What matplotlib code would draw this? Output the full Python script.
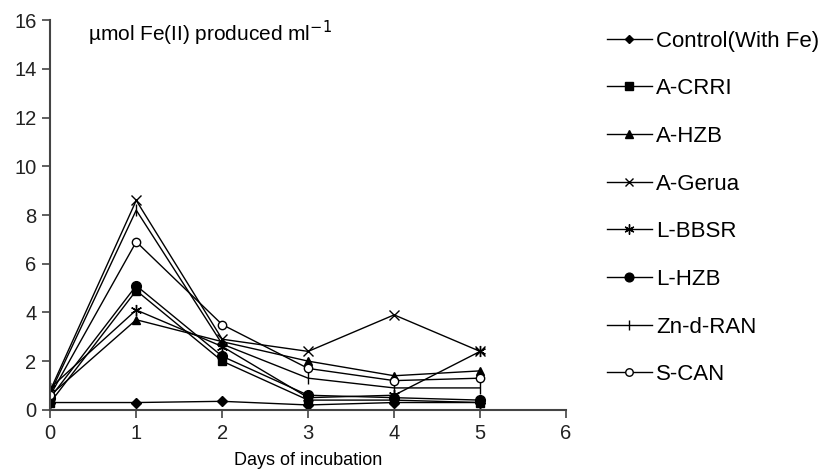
import matplotlib
matplotlib.use("Agg")
import matplotlib.pyplot as plt

plt.rcParams['font.family'] = ['Liberation Sans', 'DejaVu Sans']

# ===== Data =====
days = [0, 1, 2, 3, 4, 5]
control = [0.3, 0.3, 0.35, 0.2, 0.3, 0.3]
a_crri = [0.3, 4.9, 2.0, 0.4, 0.4, 0.3]
a_hzb = [0.6, 3.7, 2.8, 2.0, 1.4, 1.6]
a_gerua = [0.8, 8.6, 2.9, 2.4, 3.9, 2.4]
l_bbsr = [0.9, 4.1, 2.6, 0.5, 0.6, 2.4]
l_hzb = [0.5, 5.1, 2.2, 0.6, 0.5, 0.4]
zn_d_ran = [0.7, 8.2, 2.7, 1.3, 0.9, 0.9]
s_can = [0.6, 6.9, 3.5, 1.7, 1.2, 1.3]

labels = ["Control(With Fe)", "A-CRRI", "A-HZB", "A-Gerua",
          "L-BBSR", "L-HZB", "Zn-d-RAN", "S-CAN"]
series = [control, a_crri, a_hzb, a_gerua, l_bbsr, l_hzb, zn_d_ran, s_can]

# marker, size, face colour
styles = [("D", 5, "black"), ("s", 6, "black"), ("^", 6, "black"),
          ("x", 7, "black"), ((6, 2, 0), 8, "black"), ("o", 7, "black"),
          ("|", 8, "black"), ("o", 6, "white")]

fig = plt.figure(figsize=(8.24, 4.7), dpi=100)
ax = fig.add_axes([0.061, 0.128, 0.626, 0.829])

for vals, lab, (mk, ms, fc) in zip(series, labels, styles):
    ax.plot(days, vals, color="black", linewidth=1.0, marker=mk,
            markersize=ms, markerfacecolor=fc, markeredgecolor="black",
            markeredgewidth=1.0, label=lab)

ax.set_xlim(0, 6)
ax.set_ylim(0, 16)
ax.set_xticks(range(0, 7))
ax.set_yticks(range(0, 17, 2))
ax.spines['top'].set_visible(False)
ax.spines['right'].set_visible(False)
for s in ['left', 'bottom']:
    ax.spines[s].set_linewidth(1.5)
    ax.spines[s].set_color("#444444")
ax.tick_params(direction='out', length=6, width=1.2, pad=4, labelsize=14.5,
               colors="#444444", labelcolor="#222222")
ax.set_xlabel("Days of incubation", fontsize=13, labelpad=7)
ax.text(0.44, 15.45, "\u00b5mol Fe(II) produced ml$^{-1}$", fontsize=15, va="center")

fig.legend(loc="upper left", bbox_to_anchor=(0.726, 0.954), frameon=False,
           fontsize=16, labelspacing=1.2, handlelength=2.0, handletextpad=0.22,
           borderaxespad=0, markerscale=0.9)

fig.savefig("out.png", dpi=100)
